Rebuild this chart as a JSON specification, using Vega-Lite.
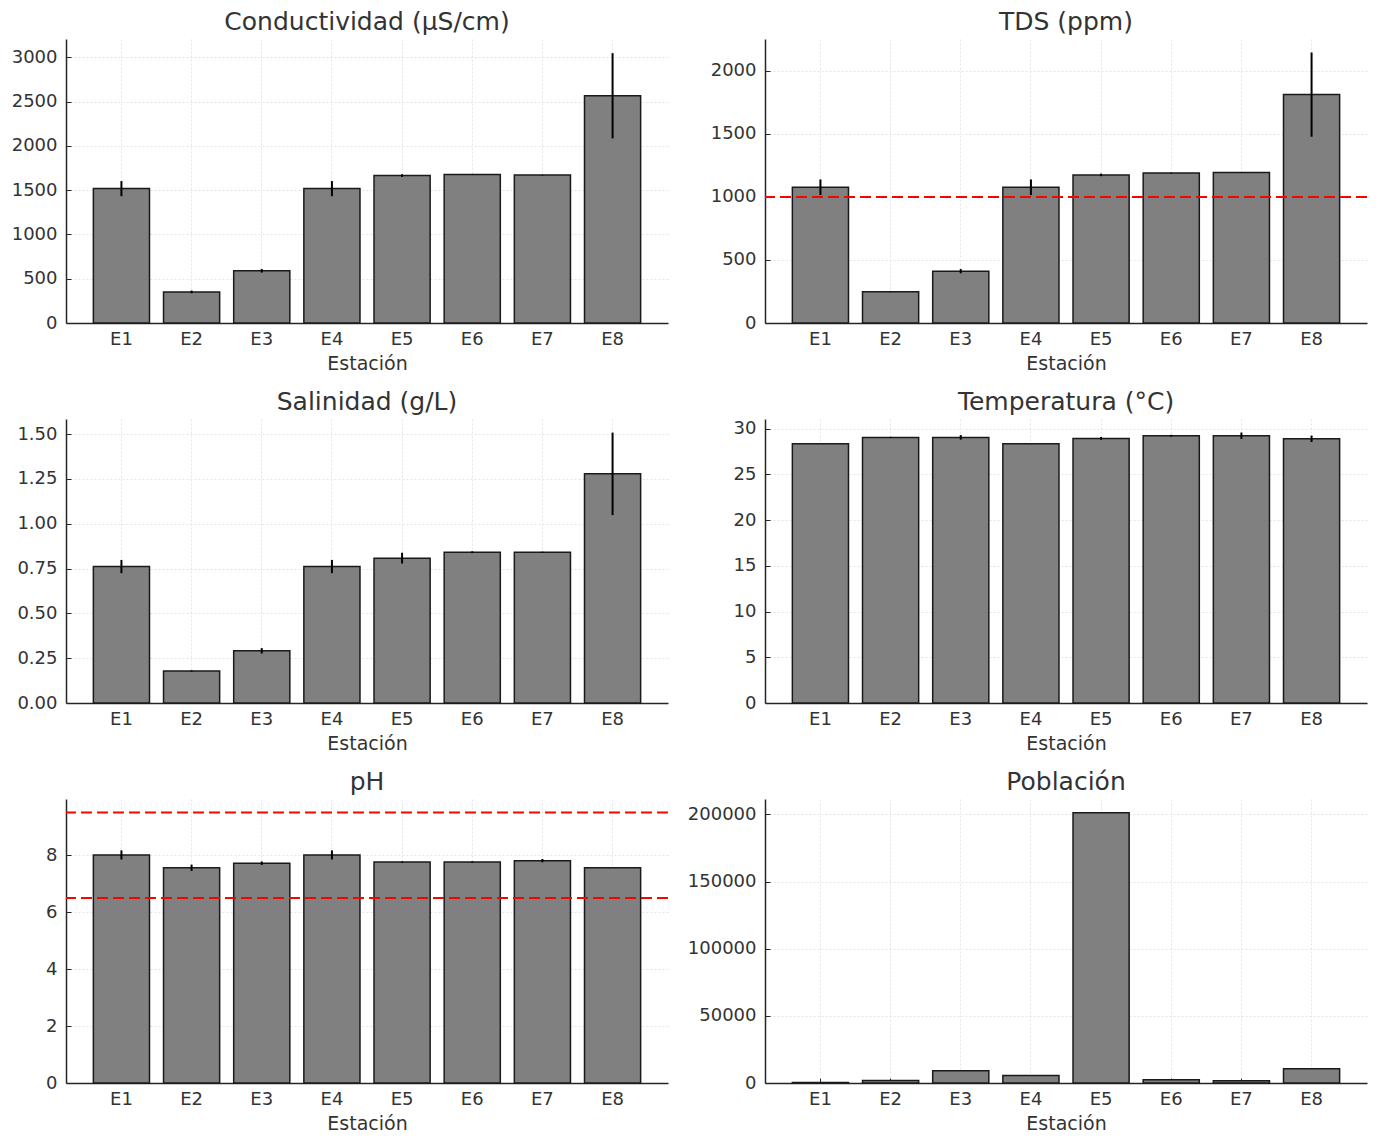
{
  "$schema": "https://vega.github.io/schema/vega-lite/v6.json",
  "padding": {"left": 11, "top": 10, "right": 5, "bottom": 5},
  "background": "white",
  "datasets": {
    "main": [
      {"param": "cond", "station": "E1", "value": 1517, "err": 85},
      {"param": "cond", "station": "E2", "value": 351, "err": 15},
      {"param": "cond", "station": "E3", "value": 589, "err": 20},
      {"param": "cond", "station": "E4", "value": 1517, "err": 85},
      {"param": "cond", "station": "E5", "value": 1664, "err": 15},
      {"param": "cond", "station": "E6", "value": 1675, "err": 3},
      {"param": "cond", "station": "E7", "value": 1670, "err": 3},
      {"param": "cond", "station": "E8", "value": 2565, "err": 481},
      {"param": "tds", "station": "E1", "value": 1077, "err": 62},
      {"param": "tds", "station": "E2", "value": 247, "err": 2},
      {"param": "tds", "station": "E3", "value": 411, "err": 17},
      {"param": "tds", "station": "E4", "value": 1077, "err": 62},
      {"param": "tds", "station": "E5", "value": 1175, "err": 10},
      {"param": "tds", "station": "E6", "value": 1189, "err": 3},
      {"param": "tds", "station": "E7", "value": 1194, "err": 2},
      {"param": "tds", "station": "E8", "value": 1812, "err": 334},
      {"param": "sal", "station": "E1", "value": 0.761, "err": 0.037},
      {"param": "sal", "station": "E2", "value": 0.179, "err": 0.003},
      {"param": "sal", "station": "E3", "value": 0.291, "err": 0.015},
      {"param": "sal", "station": "E4", "value": 0.761, "err": 0.037},
      {"param": "sal", "station": "E5", "value": 0.808, "err": 0.03},
      {"param": "sal", "station": "E6", "value": 0.841, "err": 0.005},
      {"param": "sal", "station": "E7", "value": 0.841, "err": 0.003},
      {"param": "sal", "station": "E8", "value": 1.278, "err": 0.23},
      {"param": "temp", "station": "E1", "value": 28.36, "err": 0},
      {"param": "temp", "station": "E2", "value": 29.05, "err": 0.05},
      {"param": "temp", "station": "E3", "value": 29.05, "err": 0.25},
      {"param": "temp", "station": "E4", "value": 28.36, "err": 0},
      {"param": "temp", "station": "E5", "value": 28.94, "err": 0.15},
      {"param": "temp", "station": "E6", "value": 29.23, "err": 0.1},
      {"param": "temp", "station": "E7", "value": 29.23, "err": 0.35},
      {"param": "temp", "station": "E8", "value": 28.9, "err": 0.35},
      {"param": "ph", "station": "E1", "value": 8.01, "err": 0.16},
      {"param": "ph", "station": "E2", "value": 7.56, "err": 0.11},
      {"param": "ph", "station": "E3", "value": 7.72, "err": 0.06},
      {"param": "ph", "station": "E4", "value": 8.01, "err": 0.16},
      {"param": "ph", "station": "E5", "value": 7.76, "err": 0.02},
      {"param": "ph", "station": "E6", "value": 7.76, "err": 0.02},
      {"param": "ph", "station": "E7", "value": 7.81, "err": 0.06},
      {"param": "ph", "station": "E8", "value": 7.56, "err": 0},
      {"param": "pop", "station": "E1", "value": 300, "err": 0},
      {"param": "pop", "station": "E2", "value": 1800, "err": 0},
      {"param": "pop", "station": "E3", "value": 9200, "err": 0},
      {"param": "pop", "station": "E4", "value": 5500, "err": 0},
      {"param": "pop", "station": "E5", "value": 201200, "err": 0},
      {"param": "pop", "station": "E6", "value": 2500, "err": 0},
      {"param": "pop", "station": "E7", "value": 1700, "err": 0},
      {"param": "pop", "station": "E8", "value": 10700, "err": 0}
    ],
    "tdsLimit": [{"limit": 1000}],
    "phLimit": [{"limit": 6.5}, {"limit": 9.5}]
  },
  "columns": 2,
  "bounds": "flush",
  "spacing": {"row": 96, "column": 97},
  "concat": [
    {
      "title": "Conductividad (µS/cm)",
      "width": 602, "height": 284,
      "layer": [
        {
          "data": {"name": "main"},
          "transform": [{"filter": "datum.param === 'cond'"}],
          "mark": {"type": "bar", "fill": "#808080", "stroke": "#1a1a1a", "strokeWidth": 1.5},
          "encoding": {
            "x": {"field": "station", "type": "nominal", "sort": null, "scale": {"paddingInner": 0.2, "paddingOuter": 0.39}, "axis": {"title": "Estación"}},
            "y": {"field": "value", "type": "quantitative", "scale": {"domain": [0, 3206], "nice": false}, "axis": {"title": null, "values": [0, 500, 1000, 1500, 2000, 2500, 3000], "format": "d"}}
          }
        },
        {
          "data": {"name": "main"},
          "transform": [{"filter": "datum.param === 'cond'"}],
          "mark": {"type": "errorbar", "color": "black", "thickness": 2},
          "encoding": {
            "x": {"field": "station", "type": "nominal", "sort": null},
            "y": {"field": "value", "type": "quantitative"},
            "yError": {"field": "err"}
          }
        }
      ]
    },
    {
      "title": "TDS (ppm)",
      "width": 602, "height": 284,
      "layer": [
        {
          "data": {"name": "main"},
          "transform": [{"filter": "datum.param === 'tds'"}],
          "mark": {"type": "bar", "fill": "#808080", "stroke": "#1a1a1a", "strokeWidth": 1.5},
          "encoding": {
            "x": {"field": "station", "type": "nominal", "sort": null, "scale": {"paddingInner": 0.2, "paddingOuter": 0.39}, "axis": {"title": "Estación"}},
            "y": {"field": "value", "type": "quantitative", "scale": {"domain": [0, 2253], "nice": false}, "axis": {"title": null, "values": [0, 500, 1000, 1500, 2000], "format": "d"}}
          }
        },
        {
          "data": {"name": "main"},
          "transform": [{"filter": "datum.param === 'tds'"}],
          "mark": {"type": "errorbar", "color": "black", "thickness": 2},
          "encoding": {
            "x": {"field": "station", "type": "nominal", "sort": null},
            "y": {"field": "value", "type": "quantitative"},
            "yError": {"field": "err"}
          }
        },
        {
          "data": {"name": "tdsLimit"},
          "mark": {"type": "rule", "color": "#ff0000", "strokeWidth": 2, "strokeDash": [11, 5]},
          "encoding": {"y": {"field": "limit", "type": "quantitative"}}
        }
      ]
    },
    {
      "title": "Salinidad (g/L)",
      "width": 602, "height": 284,
      "layer": [
        {
          "data": {"name": "main"},
          "transform": [{"filter": "datum.param === 'sal'"}],
          "mark": {"type": "bar", "fill": "#808080", "stroke": "#1a1a1a", "strokeWidth": 1.5},
          "encoding": {
            "x": {"field": "station", "type": "nominal", "sort": null, "scale": {"paddingInner": 0.2, "paddingOuter": 0.39}, "axis": {"title": "Estación"}},
            "y": {"field": "value", "type": "quantitative", "scale": {"domain": [0, 1.584], "nice": false}, "axis": {"title": null, "values": [0, 0.25, 0.5, 0.75, 1, 1.25, 1.5], "format": ".2f"}}
          }
        },
        {
          "data": {"name": "main"},
          "transform": [{"filter": "datum.param === 'sal'"}],
          "mark": {"type": "errorbar", "color": "black", "thickness": 2},
          "encoding": {
            "x": {"field": "station", "type": "nominal", "sort": null},
            "y": {"field": "value", "type": "quantitative"},
            "yError": {"field": "err"}
          }
        }
      ]
    },
    {
      "title": "Temperatura (°C)",
      "width": 602, "height": 284,
      "layer": [
        {
          "data": {"name": "main"},
          "transform": [{"filter": "datum.param === 'temp'"}],
          "mark": {"type": "bar", "fill": "#808080", "stroke": "#1a1a1a", "strokeWidth": 1.5},
          "encoding": {
            "x": {"field": "station", "type": "nominal", "sort": null, "scale": {"paddingInner": 0.2, "paddingOuter": 0.39}, "axis": {"title": "Estación"}},
            "y": {"field": "value", "type": "quantitative", "scale": {"domain": [0, 31.06], "nice": false}, "axis": {"title": null, "values": [0, 5, 10, 15, 20, 25, 30], "format": "d"}}
          }
        },
        {
          "data": {"name": "main"},
          "transform": [{"filter": "datum.param === 'temp'"}],
          "mark": {"type": "errorbar", "color": "black", "thickness": 2},
          "encoding": {
            "x": {"field": "station", "type": "nominal", "sort": null},
            "y": {"field": "value", "type": "quantitative"},
            "yError": {"field": "err"}
          }
        }
      ]
    },
    {
      "title": "pH",
      "width": 602, "height": 284,
      "layer": [
        {
          "data": {"name": "main"},
          "transform": [{"filter": "datum.param === 'ph'"}],
          "mark": {"type": "bar", "fill": "#808080", "stroke": "#1a1a1a", "strokeWidth": 1.5},
          "encoding": {
            "x": {"field": "station", "type": "nominal", "sort": null, "scale": {"paddingInner": 0.2, "paddingOuter": 0.39}, "axis": {"title": "Estación"}},
            "y": {"field": "value", "type": "quantitative", "scale": {"domain": [0, 9.975], "nice": false}, "axis": {"title": null, "values": [0, 2, 4, 6, 8], "format": "d"}}
          }
        },
        {
          "data": {"name": "main"},
          "transform": [{"filter": "datum.param === 'ph'"}],
          "mark": {"type": "errorbar", "color": "black", "thickness": 2},
          "encoding": {
            "x": {"field": "station", "type": "nominal", "sort": null},
            "y": {"field": "value", "type": "quantitative"},
            "yError": {"field": "err"}
          }
        },
        {
          "data": {"name": "phLimit"},
          "mark": {"type": "rule", "color": "#ff0000", "strokeWidth": 2, "strokeDash": [11, 5]},
          "encoding": {"y": {"field": "limit", "type": "quantitative"}}
        }
      ]
    },
    {
      "title": "Población",
      "width": 602, "height": 284,
      "layer": [
        {
          "data": {"name": "main"},
          "transform": [{"filter": "datum.param === 'pop'"}],
          "mark": {"type": "bar", "fill": "#808080", "stroke": "#1a1a1a", "strokeWidth": 1.5},
          "encoding": {
            "x": {"field": "station", "type": "nominal", "sort": null, "scale": {"paddingInner": 0.2, "paddingOuter": 0.39}, "axis": {"title": "Estación"}},
            "y": {"field": "value", "type": "quantitative", "scale": {"domain": [0, 211500], "nice": false}, "axis": {"title": null, "values": [0, 50000, 100000, 150000, 200000], "format": "d"}}
          }
        }
      ]
    }
  ],
  "config": {
    "font": "DejaVu Sans",
    "view": {"stroke": null},
    "title": {"fontSize": 25, "fontWeight": "normal", "color": "#333333", "offset": 4, "font": "DejaVu Sans"},
    "axis": {
      "labelFont": "DejaVu Sans",
      "titleFont": "DejaVu Sans",
      "labelFontSize": 18,
      "titleFontSize": 19,
      "titleFontWeight": "normal",
      "labelColor": "#333333",
      "titleColor": "#333333",
      "domainColor": "#262626",
      "domainWidth": 1.5,
      "tickColor": "#262626",
      "tickWidth": 1,
      "tickSize": -5,
      "labelPadding": 14,
      "grid": true,
      "gridColor": "#d0d0d0",
      "gridDash": [2, 2],
      "gridWidth": 0.8,
      "gridOpacity": 0.7,
      "bandPosition": 0.5
    },
    "axisX": {"labelAngle": 0, "titlePadding": 6, "labelPadding": 12},
    "axisY": {"labelPadding": 14}
  }
}
